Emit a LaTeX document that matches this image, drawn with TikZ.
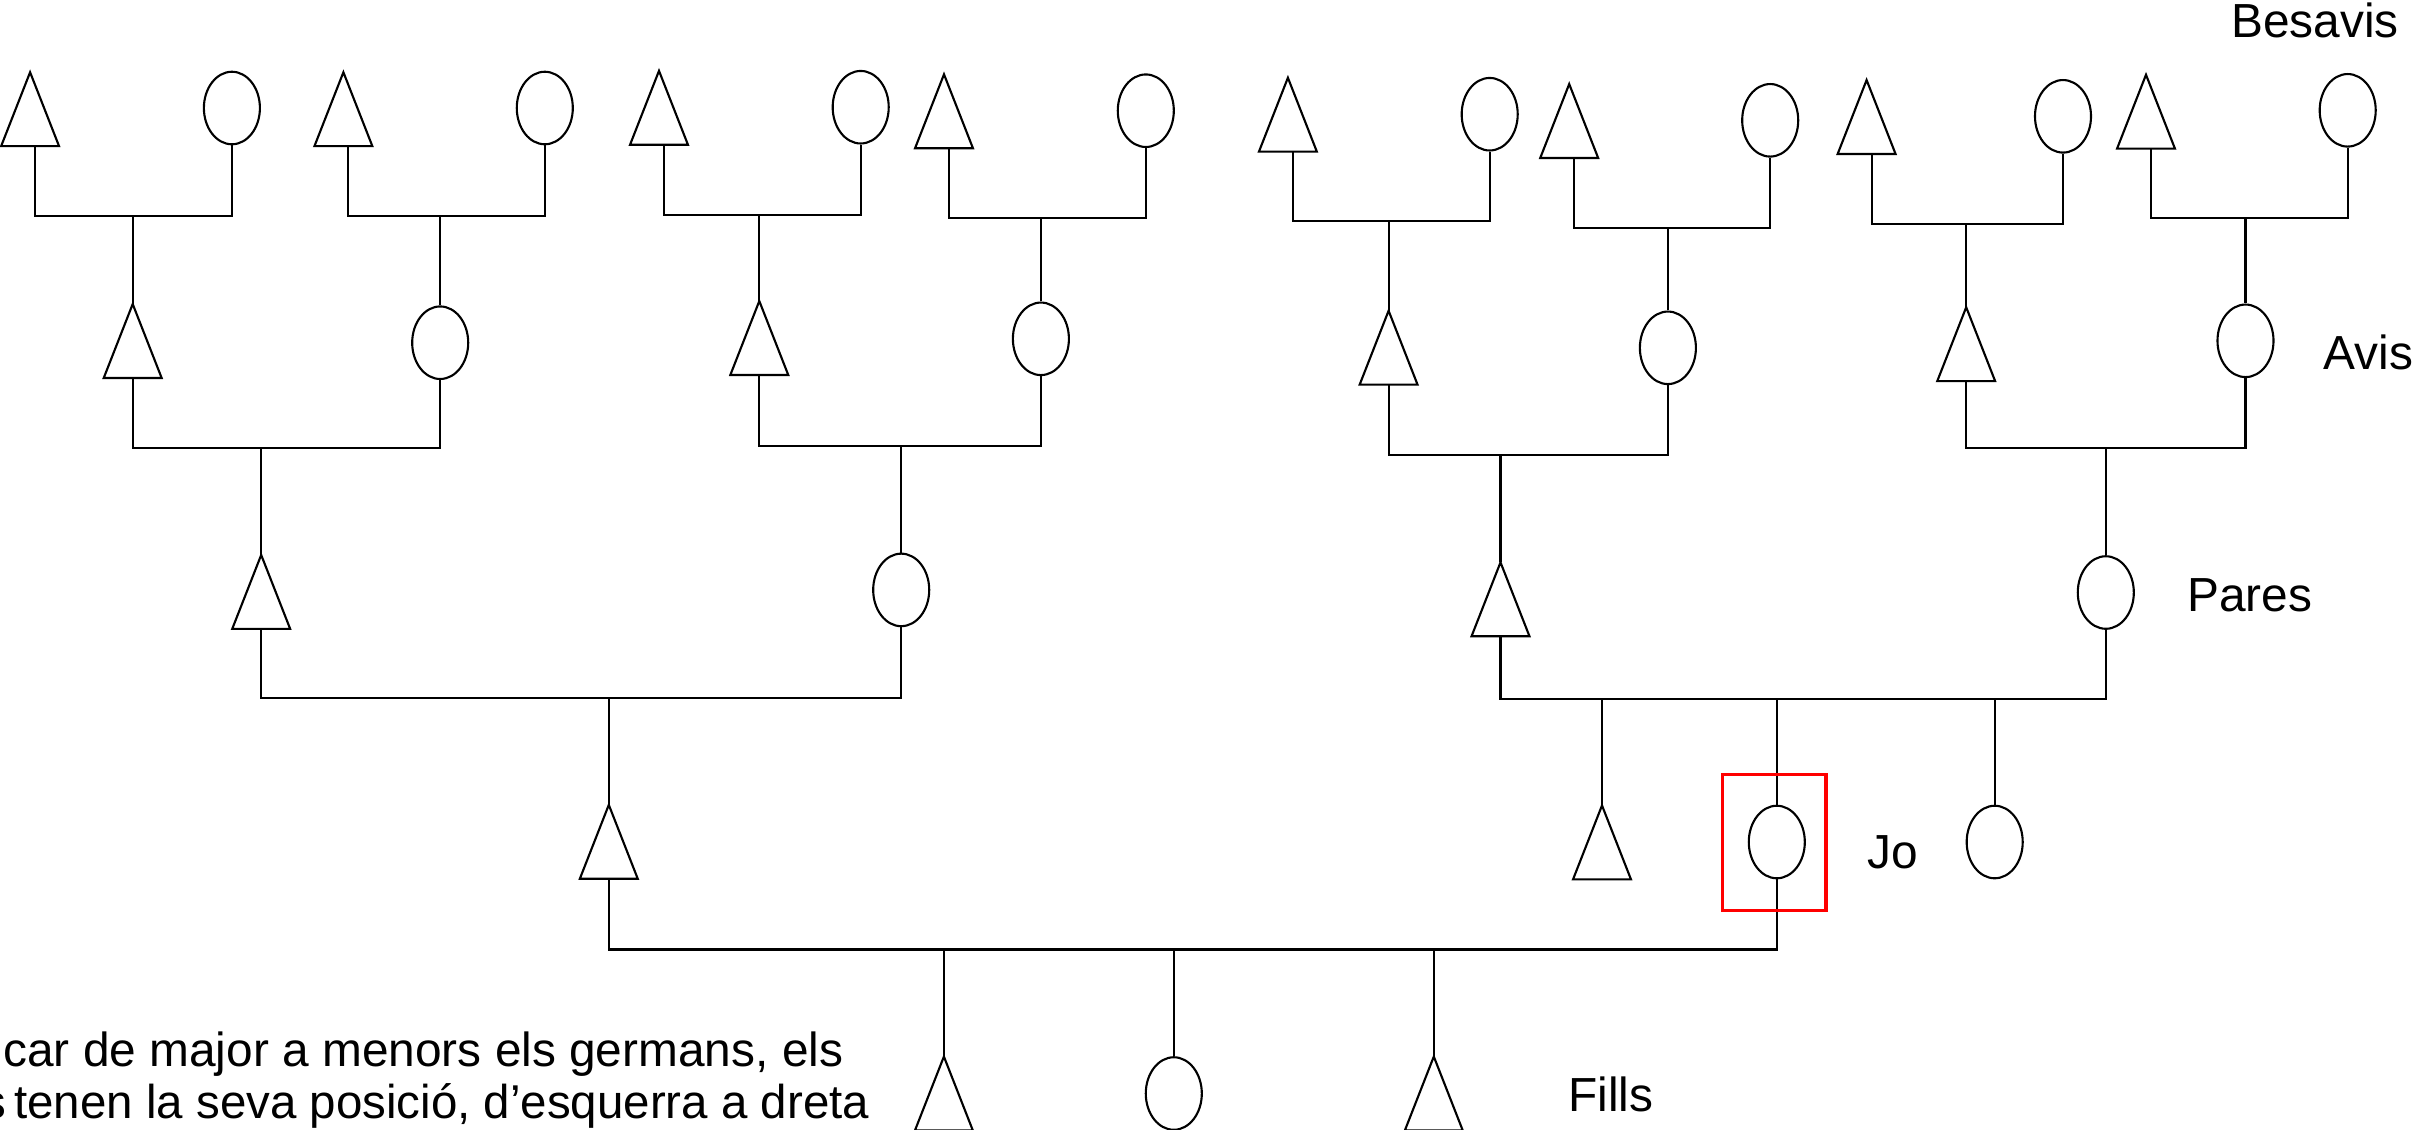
\documentclass[tikz,border=0pt]{standalone}
\usepackage{fontspec}
\setmainfont{Liberation Sans}
\usetikzlibrary{shapes.geometric}
\tikzset{
  ln/.style={line width=0.6pt, black},
  tribox/.style={inner sep=0pt, minimum width=0.565cm, minimum height=0.725cm},
  circ/.style={ellipse, draw, line width=0.6pt, inner sep=0pt, minimum width=0.56cm, minimum height=0.725cm},
  lbl/.style={anchor=base west, inner sep=0pt, font=\fontsize{13.6}{16}\selectfont},
  note/.style={anchor=base east, inner sep=0pt, font=\fontsize{13.6}{16}\selectfont},
  jobox/.style={draw=red, line width=1pt, inner sep=0pt, minimum width=1.035cm, minimum height=1.36cm}
}
\newcommand{\mtri}[3]{\node[tribox] (#1) at (#2,#3) {};
  \draw[ln, line join=miter] (#1.south west) -- (#1.north) -- (#1.south east) -- cycle;}
\newcommand{\mcirc}[3]{\node[circ] (#1) at (#2,#3) {};}
% father, mother, child, bar y, father shift
\newcommand{\couple}[5]{%
  \coordinate (#3-j) at (#3.north |- 0,#4);
  \draw[ln] ([xshift=#5]#1.south) |- (#3-j) -| (#2.south);
  \draw[ln] (#3-j) -- (#3.north);}
\begin{document}
\begin{tikzpicture}[x=0.01cm, y=-0.01cm]
\useasboundingbox (0,0) rectangle (2420,1129);
\clip (0,0) rectangle (2420,1129);
% Besavis
\mtri{t41}{30.1}{109.2}   \mcirc{c41}{231.9}{108}
\mtri{t42}{343.4}{109.2}  \mcirc{c42}{544.8}{108}
\mtri{t43}{659}{107.8}    \mcirc{c43}{860.7}{107.2}
\mtri{t44}{944}{111.3}    \mcirc{c44}{1145.8}{110.7}
\mtri{t45}{1287.9}{114.7} \mcirc{c45}{1489.7}{114.2}
\mtri{t46}{1569.2}{121}   \mcirc{c46}{1770.2}{120.3}
\mtri{t47}{1866.6}{117}   \mcirc{c47}{2063}{116.3}
\mtri{t48}{2146}{111.7}   \mcirc{c48}{2347.7}{110.3}
% Avis
\mtri{t31}{132.7}{341}    \mcirc{c31}{440.2}{342.7}
\mtri{t32}{759.3}{338}    \mcirc{c32}{1040.9}{338.8}
\mtri{t33}{1388.6}{347.7} \mcirc{c33}{1667.9}{347.8}
\mtri{t34}{1966.2}{344.2} \mcirc{c34}{2245.5}{340.8}
% Pares
\mtri{t21}{261.2}{591.9}  \mcirc{c21}{901.2}{589.9}
\mtri{t22}{1500.5}{599.3} \mcirc{c22}{2105.8}{592.5}
% Jo generation
\mtri{t11}{608.8}{841.8}
\mtri{s1}{1602}{842.4}
\mcirc{jo}{1776.8}{842}
\mcirc{s2}{1994.7}{842}
% Fills
\mtri{k1}{943.9}{1093.5}
\mcirc{k2}{1173.8}{1093.5}
\mtri{k3}{1433.8}{1093.5}
% connectors
\couple{t41}{c41}{t31}{216}{0.05cm}
\couple{t42}{c42}{c31}{216}{0.05cm}
\couple{t43}{c43}{t32}{214.7}{0.05cm}
\couple{t44}{c44}{c32}{218.3}{0.05cm}
\couple{t45}{c45}{t33}{221}{0.05cm}
\couple{t46}{c46}{c33}{228}{0.05cm}
\couple{t47}{c47}{t34}{224.3}{0.05cm}
\couple{t48}{c48}{c34}{218.3}{0.05cm}
\couple{t31}{c31}{t21}{448.3}{0cm}
\couple{t32}{c32}{c21}{445.7}{0cm}
\couple{t33}{c33}{t22}{455.3}{0cm}
\couple{t34}{c34}{c22}{448.3}{0cm}
\couple{t21}{c21}{t11}{697.8}{0cm}
\couple{t22}{c22}{jo}{698.6}{0cm}
\draw[ln] (s1.north) -- (s1.north |- jo-j);
\draw[ln] (s2.north) -- (s2.north |- jo-j);
\couple{t11}{jo}{k2}{949.5}{0cm}
\draw[ln] (k1.north) -- (k1.north |- k2-j);
\draw[ln] (k3.north) -- (k3.north |- k2-j);
% Jo highlight
\node[jobox] (jbox) at (1774.3,842.5) {};
% labels
\node[lbl] (lbesavis) at (2230.7,37) {Besavis};
\node[lbl] (lavis) at (2323,369) {Avis};
\node[lbl] (lpares) at (2186.7,611.7) {Pares};
\node[lbl] (ljo) at (1866.7,868.3) {Jo};
\node[lbl] (lfills) at (1567.7,1111) {Fills};
\node[note] (note1) at (844,1066) {car de major a menors els germans, els};
\node[note, font=\fontsize{13.5}{16}\selectfont] (note2) at (870,1118) {s\kern-0.12em\ tenen la seva posició, d’esquerra a dreta};
\end{tikzpicture}
\end{document}
